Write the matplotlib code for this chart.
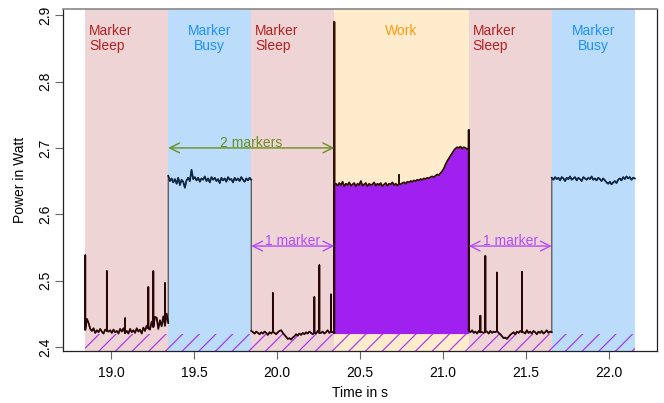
import numpy as np
import matplotlib
matplotlib.use("Agg")
import matplotlib.pyplot as plt

plt.rcParams['font.family'] = ['Liberation Sans', 'DejaVu Sans']
plt.rcParams['hatch.linewidth'] = 0.9

# ---- data ----
region_starts = [18.845, 19.345, 19.845, 20.345, 21.155, 21.655]
region_ends = [19.345, 19.845, 20.345, 21.155, 21.655, 22.155]
region_kinds = ["sleep", "busy", "sleep", "work", "sleep", "busy"]
region_labels = ["Marker\nSleep", "Marker\nBusy", "Marker\nSleep", "Work", "Marker\nSleep", "Marker\nBusy"]

# power samples in mW, one list per region (evenly spaced, 10 ms apart)
sleep1_mw = [2426, 2442, 2436, 2427, 2424, 2428, 2421, 2425, 2422, 2427,
             2423, 2420, 2426, 2424, 2423, 2425, 2421, 2426, 2422, 2424,
             2420, 2427, 2423, 2428, 2421, 2424, 2420, 2427, 2422, 2425,
             2421, 2428, 2423, 2426, 2420, 2429, 2424, 2432, 2428, 2426,
             2438, 2430, 2445, 2444, 2427, 2440, 2431, 2446, 2432, 2450, 2436]
busy1_mw = [2658, 2650, 2654, 2648, 2653, 2646, 2655, 2644, 2652, 2649,
            2640, 2651, 2655, 2650, 2667, 2653, 2656, 2651, 2655, 2649,
            2654, 2652, 2657, 2650, 2654, 2648, 2656, 2652, 2655, 2650,
            2653, 2647, 2655, 2651, 2654, 2649, 2656, 2652, 2653, 2648,
            2655, 2651, 2654, 2650, 2656, 2652, 2649, 2654, 2651, 2655, 2652]
sleep2_mw = [2424, 2422, 2420, 2423, 2421, 2419, 2422, 2420, 2423, 2421,
             2418, 2422, 2420, 2423, 2421, 2419, 2422, 2424, 2425, 2421,
             2418, 2415, 2412, 2413, 2411, 2414, 2416, 2419, 2417, 2420,
             2418, 2421, 2419, 2422, 2420, 2423, 2421, 2419, 2422, 2420,
             2424, 2421, 2421, 2423, 2420, 2422, 2425, 2421, 2423, 2422, 2421]
work_mw = [2646,
           2646, 2643, 2647, 2644, 2649, 2642, 2646, 2644, 2648, 2643,
           2645, 2647, 2642, 2646, 2644, 2650, 2643, 2645, 2647, 2642,
           2646, 2644, 2645, 2648, 2643, 2646, 2644, 2647, 2642, 2645,
           2647, 2643, 2646, 2645, 2648, 2644, 2646, 2643, 2646, 2645,
           2647, 2648, 2646, 2649, 2648, 2650, 2649, 2651, 2650, 2652,
           2651, 2653, 2652, 2654, 2653, 2655, 2654,
           2656, 2657, 2656, 2658, 2660, 2659, 2662, 2665, 2669,
           2675, 2680, 2684, 2688, 2692, 2696, 2699,
           2701, 2700, 2702, 2699, 2701, 2700, 2698,
           2700]
sleep3_mw = [2424, 2422, 2425, 2421, 2423, 2420, 2424, 2422, 2422, 2421,
             2423, 2423, 2420, 2424, 2421, 2423, 2422, 2424, 2421, 2419,
             2416, 2413, 2414, 2412, 2415, 2418, 2420, 2422, 2419, 2423,
             2421, 2424, 2422, 2422, 2420, 2425, 2421, 2423, 2420, 2424,
             2422, 2419, 2423, 2421, 2424, 2420, 2422, 2425, 2421, 2423, 2422]
busy2_mw = [2655, 2652, 2656, 2653, 2655, 2651, 2656, 2654, 2650, 2655,
            2653, 2657, 2652, 2654, 2656, 2651, 2655, 2653, 2650, 2656,
            2654, 2652, 2655, 2653, 2657, 2652, 2654, 2651, 2655, 2653,
            2650, 2654, 2651, 2648, 2646, 2649, 2645, 2648, 2650, 2647,
            2652, 2654, 2651, 2656, 2653, 2657, 2654, 2656, 2652, 2655, 2654]
segments_mw = [sleep1_mw, busy1_mw, sleep2_mw, work_mw, sleep3_mw, busy2_mw]

# short power spikes: time (s) and peak (mW)
spike_t = [18.845, 18.975, 19.085, 19.225, 19.255, 19.325,
           19.975, 20.225, 20.255, 20.325,
           20.345, 20.735, 21.155,
           21.225, 21.255, 21.325, 21.475]
spike_mw = [2538, 2514, 2443, 2490, 2514, 2496,
            2481, 2475, 2523, 2479,
            2890, 2659, 2727,
            2447, 2537, 2512, 2513]

baseline_w = 2.420          # top of the hatched idle band
arrow2_y = 2.70             # "2 markers" arrow level
arrow1_y = 2.552            # "1 marker" arrow level
x_ticks = [19.0, 19.5, 20.0, 20.5, 21.0, 21.5, 22.0]
y_ticks = [2.4, 2.5, 2.6, 2.7, 2.8, 2.9]

# ---- styles ----
bg_col = {"sleep": "#EFD4D5", "busy": "#BBDDFB", "work": "#FFECCD"}
txt_col = {"sleep": "#B22222", "busy": "#1E90FF", "work": "#FF9A10"}
line_col = {"sleep": "#2a0707", "busy": "#0d2744", "work": "#331206"}
purple = "#A020F0"

fig = plt.figure(figsize=(6.64, 4.03), dpi=100)
ax = fig.add_axes([0.0949, 0.129, 0.8946, 0.8486])
ax.set_xlim(18.711, 22.289)
ax.set_ylim(2.3937, 2.9095)

for s, e, k, lab in zip(region_starts, region_ends, region_kinds, region_labels):
    ax.axvspan(s, e, color=bg_col[k], lw=0, zorder=0)
    if k == "sleep":
        ax.text(s + 0.022, 2.887, lab, ha="left", va="top", color=txt_col[k],
                fontsize=10, linespacing=1.1, zorder=6)
    else:
        ax.text((s + e) / 2, 2.887, lab, ha="center", va="top", color=txt_col[k],
                fontsize=10, linespacing=1.1, zorder=6)

# hatched idle band
ax.fill_between([region_starts[0], region_ends[-1]], 2.3937, baseline_w,
                facecolor="none", edgecolor=(0.627, 0.125, 0.94, 0.85),
                hatch="//", lw=0, zorder=1)

# build series with spikes as vertical excursions at sample times
seg_data = []
for s, e, vals in zip(region_starts, region_ends, segments_mw):
    t = list(np.linspace(s, e, len(vals)))
    v = [x / 1000.0 for x in vals]
    tt, vv = [], []
    for ti, vi in zip(t, v):
        tt.append(ti)
        vv.append(vi)
        for st, sm in zip(spike_t, spike_mw):
            if abs(st - ti) < 0.004:
                tt += [ti, ti]
                vv += [sm / 1000.0, vi]
    seg_data.append((np.array(t), np.array(v), np.array(tt), np.array(vv)))

all_t = np.concatenate([d[2] for d in seg_data])
all_v = np.concatenate([d[3] for d in seg_data])

# work fill
wt, wv = seg_data[3][0], seg_data[3][1]
ax.fill_between(wt, baseline_w, wv, color=purple, lw=0, zorder=2)

ax.plot(all_t, all_v, color="#555555", lw=0.9, zorder=3)
for (t, v, tt, vv), k in zip(seg_data, region_kinds):
    ax.plot(tt, vv, color=line_col[k], lw=1.25, zorder=4)

# arrows
def dim_arrow(x0, x1, y, col, label):
    ax.annotate("", xy=(x0, y), xytext=(x1, y),
                arrowprops=dict(arrowstyle="<->,head_length=0.7,head_width=0.35",
                                color=col, lw=1.0, shrinkA=0, shrinkB=0,
                                mutation_scale=10), zorder=6)
    ax.text((x0 + x1) / 2, y + 0.001, label, ha="center", va="baseline",
            color=col, fontsize=10, zorder=6)

dim_arrow(region_starts[1], region_ends[2], arrow2_y, "#6B8E23", "2 markers")
dim_arrow(region_starts[2], region_ends[2], arrow1_y, (0.70, 0.30, 0.96), "1 marker")
dim_arrow(region_starts[4], region_ends[4], arrow1_y, (0.70, 0.30, 0.96), "1 marker")

# axes styling
ax.set_xticks(x_ticks)
ax.set_xticklabels([f"{v:.1f}" for v in x_ticks])
ax.set_yticks(y_ticks)
ax.set_yticklabels([f"{v:.1f}" for v in y_ticks], rotation=90, va="center")
ax.tick_params(axis="both", direction="out", length=5.5, width=0.8,
               color="#666666", labelsize=10)
ax.tick_params(axis="x", pad=5)
ax.tick_params(axis="y", pad=2.5)
for side in ["left", "bottom", "right"]:
    ax.spines[side].set_color("#222222")
    ax.spines[side].set_linewidth(0.9)
ax.spines["top"].set_color("#888888")
ax.spines["top"].set_linewidth(1.2)

ax.set_xlabel("Time in s", fontsize=10)
ax.set_ylabel("Power in Watt", fontsize=10)
ax.xaxis.set_label_coords(0.5, -0.1228)
ax.xaxis.label.set_va("center")
ax.yaxis.set_label_coords(-0.0724, 0.5)
ax.yaxis.label.set_va("center")

fig.savefig("out.png", dpi=100)
